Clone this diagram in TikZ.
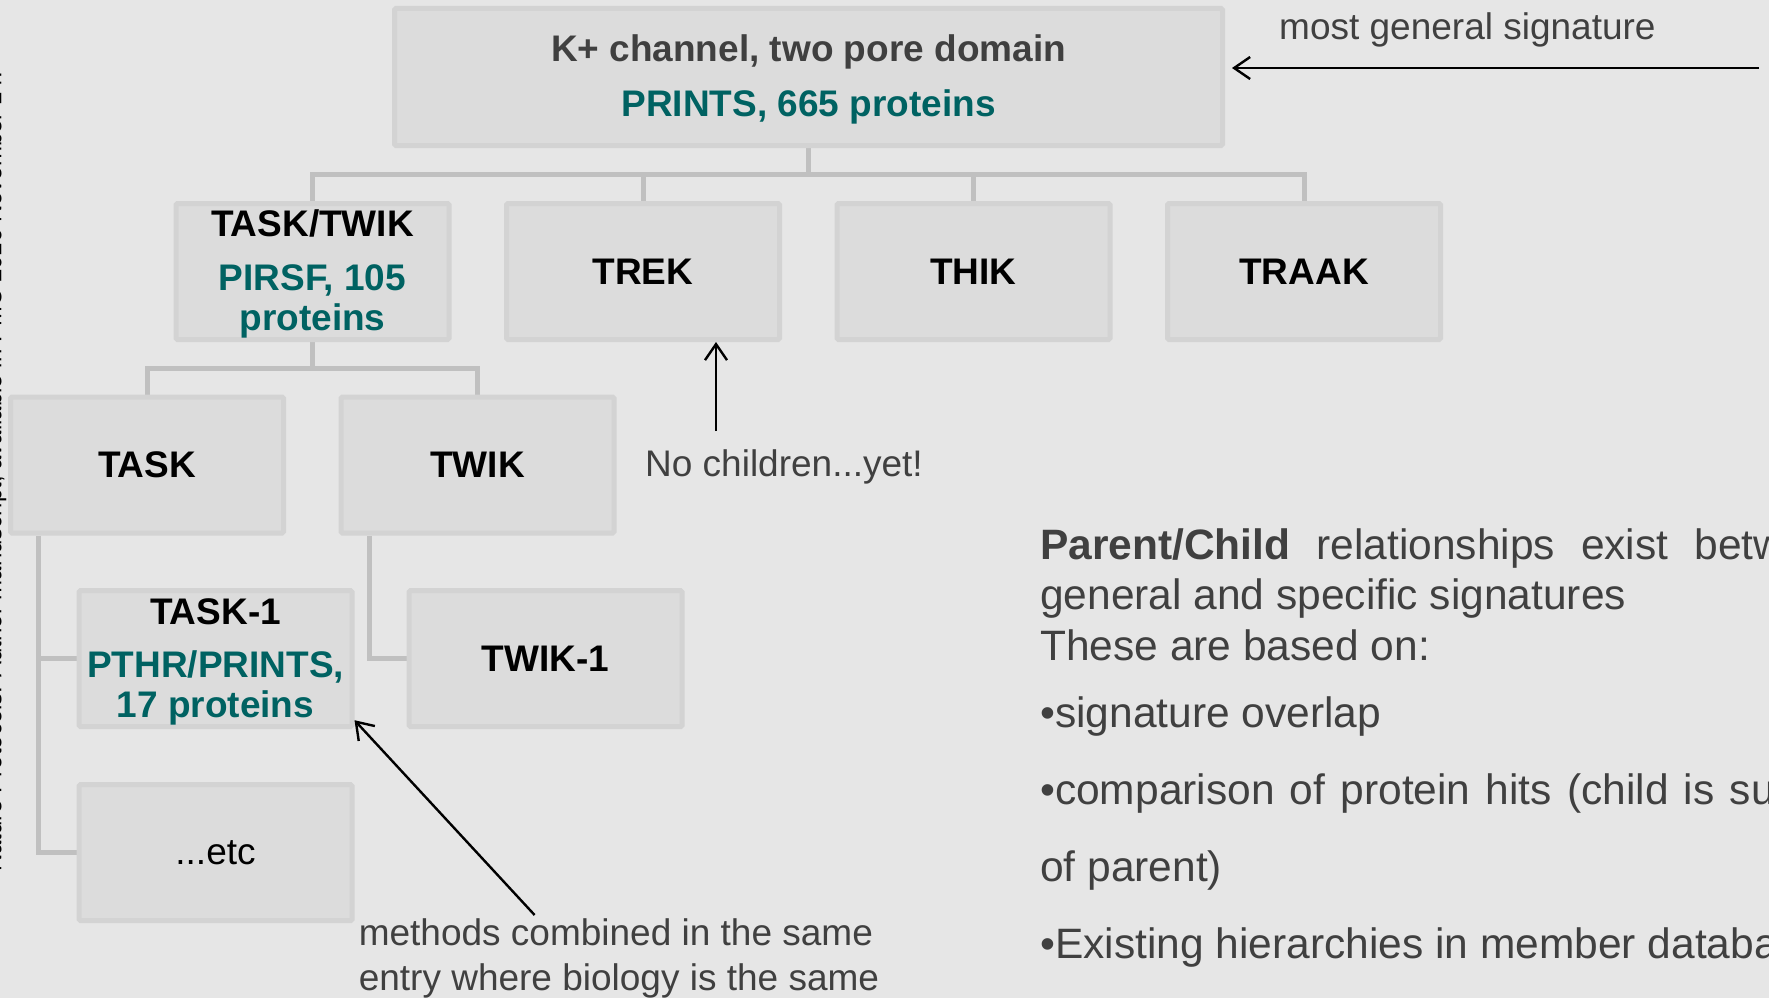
\documentclass[tikz,border=0pt]{standalone}
\usepackage{fontspec}
\setmainfont{Liberation Sans}
\usetikzlibrary{arrows.meta,calc}

\definecolor{pagebg}{RGB}{230,230,230}
\definecolor{boxfill}{RGB}{220,220,220}
\definecolor{boxline}{RGB}{211,211,211}
\definecolor{wirecol}{RGB}{192,192,192}
\definecolor{ink}{RGB}{64,64,64}
\definecolor{dbteal}{RGB}{0,98,98}

\pgfdeclarelayer{bg}
\pgfsetlayers{bg,main}

\newcommand\fsz[1]{\fontsize{#1}{#1}\selectfont}

\begin{document}
\begin{tikzpicture}[x=1pt,y=-1pt,
  box/.style={draw=boxline, fill=boxfill, line width=5pt, rounded corners=1.5pt,
    minimum width=273pt, minimum height=136pt, inner sep=0pt},
  wire/.style={draw=wirecol, line width=5pt},
  arr/.style={draw=black, line width=2.4pt, -{Straight Barb[length=16pt,width=22pt]}},
  lbl/.style={font=\fsz{37}\bfseries, text=black, inner sep=0pt},
  sub/.style={font=\fsz{37}\bfseries, text=dbteal, inner sep=0pt, anchor=base},
  note/.style={font=\fsz{37}, text=ink, inner sep=0pt, anchor=base west},
  body/.style={font=\fsz{42.5}, text=ink, inner sep=0pt, anchor=base west}]

\useasboundingbox (0,0) rectangle (1769,998);
\clip (0,0) rectangle (1769,998);

\begin{pgfonlayer}{bg}
  \fill[pagebg] (0,0) rectangle (1769,998);
\end{pgfonlayer}

% margin watermark, running up the left edge
\node[rotate=90, anchor=base, font=\fsz{24}, text=black, inner sep=0pt] (wm) at (1.5,472)
  {Nature Protocols. Author manuscript; available in PMC 2016 November 14.};

% root signature
\node[box, minimum width=828pt, minimum height=137pt] (top) at (808.5,77) {};
\node[lbl, text=ink, anchor=base] (top-name) at ($(top.north)+(0,55.7)$) {K+ channel, two pore domain};
\node[sub] (top-db) at ($(top.north)+(0,110)$) {PRINTS, 665 proteins};

% second level
\node[box] (tasktwik) at (312.5,271.5) {};
\node[lbl, anchor=base] (tasktwik-name) at ($(tasktwik.north)+(0,35)$) {TASK/TWIK};
\node[sub] (tasktwik-db1) at ($(tasktwik.north)+(0,89)$) {PIRSF, 105};
\node[sub] (tasktwik-db2) at ($(tasktwik.north)+(0,129)$) {proteins};

\node[box, lbl] (trek) at (643,271.5) {TREK};
\node[box, lbl] (thik) at (973.5,271.5) {THIK};
\node[box, lbl] (traak) at (1304,271.5) {TRAAK};

% third level
\node[box, lbl] (task) at (147,465) {TASK};
\node[box, lbl] (twik) at (477.5,465) {TWIK};

% fourth level
\node[box] (task1) at (215.5,658.7) {};
\node[lbl, anchor=base] (task1-name) at ($(task1.north)+(0,36)$) {TASK-1};
\node[sub] (task1-db1) at ($(task1.north)+(0,89.5)$) {PTHR/PRINTS,};
\node[sub] (task1-db2) at ($(task1.north)+(0,129.5)$) {17 proteins};

\node[box, lbl] (twik1) at (545.5,658.7) {TWIK-1};
\node[box, lbl, font=\fsz{37}] (etc) at (215.5,852.7) {...etc};

% tree connectors, kept behind the boxes
\begin{pgfonlayer}{bg}
  \coordinate (bus1) at (808.5,174);
  \draw[wire] (top.south) -- (bus1);
  \draw[wire] (tasktwik.north) |- (bus1) -| (traak.north);
  \draw[wire] (trek.north) -- (trek.north |- bus1);
  \draw[wire] (thik.north) -- (thik.north |- bus1);

  \coordinate (bus2) at (312.5,368);
  \draw[wire] (tasktwik.south) -- (bus2);
  \draw[wire] (task.north) |- (bus2) -| (twik.north);

  \coordinate (tasktrunk) at ($(task.south west)+(30.5,0)$);
  \draw[wire] (tasktrunk) |- (etc.west);
  \draw[wire] (tasktrunk |- task1.west) -- (task1.west);

  \coordinate (twiktrunk) at ($(twik.south west)+(30.5,0)$);
  \draw[wire] (twiktrunk) |- (twik1.west);
\end{pgfonlayer}

% annotations
\coordinate (mgs) at (1759,68);
\draw[arr, shorten >=7pt] (mgs) -- (top.east |- mgs);
\node[note] (mgs-text) at (1279,39.3) {most general signature};

\coordinate (nokids) at (716,431);
\draw[arr] (nokids) -- (trek.south -| nokids);
\node[note] (nokids-text) at (645,476.7) {No children...yet!};

\coordinate (merged) at (534.6,915);
\draw[arr] (merged) -- ($(task1.south east)+(0,-9)$);
\node[note] (merged-text1) at (358.6,945) {methods combined in the same};
\node[note] (merged-text2) at (358.6,990) {entry where biology is the same};

% explanation on the right
\node[body] (p1) at (1040,559.3) {\makebox[815pt][s]{\textbf{Parent/Child} relationships exist between}};
\node[body] (p2) at (1040,609.3) {general and specific signatures};
\node[body] (p3) at (1040,660) {These are based on:};
\node[body] (b1) at (1040,727) {•signature overlap};
\node[body] (b2) at (1040,804) {\makebox[815pt][s]{•comparison of protein hits (child is subset}};
\node[body] (b3) at (1040,881) {of parent)};
\node[body] (b4) at (1040,958) {•Existing hierarchies in member databases};

\end{tikzpicture}
\end{document}
